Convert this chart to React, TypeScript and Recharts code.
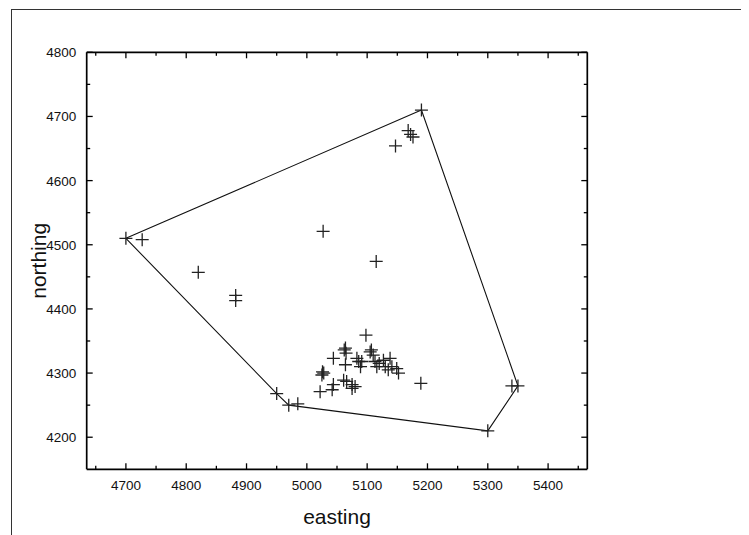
import React from 'react';
import { ScatterChart, Scatter, XAxis, YAxis } from 'recharts';

// station coordinates
const eastings = [
  4700, 4727, 4820, 4882, 4882, 5027, 5115, 5147, 5168, 5172, 5176, 5190,
  5189, 5340, 5350, 5300, 4970, 4985, 4950,
  5098, 5064, 5065, 5044, 5105, 5110, 5086, 5089, 5064, 5113, 5116, 5127,
  5138, 5130, 5141, 5149, 5152, 5135, 5026, 5025, 5022, 5042, 5044, 5061,
  5066, 5075, 5080, 5075, 5083, 5091, 5120, 5062, 5028, 5107,
];
const northings = [
  4510, 4508, 4457, 4421, 4413, 4521, 4474, 4654, 4678, 4672, 4668, 4710,
  4284, 4280, 4280, 4210, 4250, 4252, 4268,
  4359, 4339, 4331, 4323, 4333, 4328, 4318, 4310, 4313, 4318, 4310, 4320,
  4323, 4310, 4310, 4307, 4300, 4305, 4302, 4297, 4271, 4274, 4282, 4289,
  4287, 4282, 4279, 4276, 4323, 4318, 4315, 4336, 4300, 4336,
];

// convex hull, closed
const hullEastings = [4700, 5190, 5350, 5300, 4970, 4950, 4700];
const hullNorthings = [4510, 4710, 4280, 4210, 4250, 4268, 4510];

const xTicks = [4650, 4700, 4750, 4800, 4850, 4900, 4950, 5000, 5050, 5100, 5150, 5200, 5250, 5300, 5350, 5400, 5450];
const yTicks = [4200, 4250, 4300, 4350, 4400, 4450, 4500, 4550, 4600, 4650, 4700, 4750, 4800];

const points = eastings.map((e, i) => ({ e, n: northings[i] }));
const hull = hullEastings.map((e, i) => ({ e, n: hullNorthings[i] }));

const FONT = '"Liberation Sans", Arial, sans-serif';
const X_DOMAIN = [4635, 5465];
const Y_DOMAIN = [4150, 4800];

const isMajor = (v: number) => v % 100 === 0;

const BottomTick = (props: any) => {
  const { x, y, payload } = props;
  const len = isMajor(payload.value) ? 6 : 3.5;
  return (
    <g>
      <line x1={x} x2={x} y1={y} y2={y - len} stroke="#000" strokeWidth={1.3} />
      {isMajor(payload.value) && (
        <text x={x} y={y + 21} textAnchor="middle" fontSize={13.5} fontFamily={FONT} fill="#111">
          {payload.value}
        </text>
      )}
    </g>
  );
};

const TopTick = (props: any) => {
  const { x, y, payload } = props;
  const len = isMajor(payload.value) ? 6 : 3.5;
  return <line x1={x} x2={x} y1={y} y2={y + len} stroke="#000" strokeWidth={1.3} />;
};

const LeftTick = (props: any) => {
  const { x, y, payload } = props;
  const len = isMajor(payload.value) ? 6 : 3.5;
  return (
    <g>
      <line x1={x} x2={x + len} y1={y} y2={y} stroke="#000" strokeWidth={1.3} />
      {isMajor(payload.value) && (
        <text x={x - 10.5} y={y + 5} textAnchor="end" fontSize={13.5} fontFamily={FONT} fill="#111">
          {payload.value}
        </text>
      )}
    </g>
  );
};

const RightTick = (props: any) => {
  const { x, y, payload } = props;
  const len = isMajor(payload.value) ? 6 : 3.5;
  return <line x1={x} x2={x - len} y1={y} y2={y} stroke="#000" strokeWidth={1.3} />;
};

const Cross = (props: any) => {
  const { cx, cy } = props;
  if (cx == null || cy == null) return <g />;
  return (
    <g stroke="#222" strokeWidth={1.3}>
      <line x1={cx - 6.5} x2={cx + 6.5} y1={cy} y2={cy} />
      <line x1={cx} x2={cx} y1={cy - 6.5} y2={cy + 6.5} />
    </g>
  );
};

const Nothing = () => <g />;

const axisLine = { stroke: '#000', strokeWidth: 1.7 };

export default function App() {
  return (
    <div style={{ position: 'relative', width: 741, height: 527 }}>
      <div
        style={{
          position: 'absolute', left: 3, top: 1, width: 738, height: 526,
          borderLeft: '1px solid #333', borderTop: '1px solid #333', boxSizing: 'border-box',
        }}
      />
      <ScatterChart width={741} height={527} margin={{ top: 34.3, right: 151.7, bottom: 35.7, left: 28.7 }}>
        <XAxis
          xAxisId="b" dataKey="e" type="number" orientation="bottom" domain={X_DOMAIN}
          allowDataOverflow ticks={xTicks} interval={0} tick={<BottomTick />} tickLine={false}
          tickSize={0} tickMargin={0} height={30} axisLine={axisLine}
          label={{
            content: ({ viewBox }: any) => (
              <text x={viewBox.x + viewBox.width / 2} y={viewBox.y + viewBox.height + 25}
                textAnchor="middle" fontSize={21} fontFamily={FONT} fill="#111">easting</text>
            ),
          }}
        />
        <XAxis
          xAxisId="t" dataKey="e" type="number" orientation="top" domain={X_DOMAIN} allowDataOverflow
          ticks={xTicks} interval={0} tick={<TopTick />} tickLine={false} tickSize={0} tickMargin={0}
          height={10} axisLine={axisLine}
        />
        <YAxis
          yAxisId="l" dataKey="n" type="number" orientation="left" domain={Y_DOMAIN}
          allowDataOverflow ticks={yTicks} interval={0} tick={<LeftTick />} tickLine={false}
          tickSize={0} tickMargin={0} width={50} axisLine={axisLine}
          label={{
            content: ({ viewBox }: any) => {
              const cx = viewBox.x + 9.3;
              const cy = viewBox.y + viewBox.height / 2;
              return (
                <text x={cx} y={cy} transform={`rotate(-90, ${cx}, ${cy})`} textAnchor="middle"
                  fontSize={21} fontFamily={FONT} fill="#111">northing</text>
              );
            },
          }}
        />
        <YAxis
          yAxisId="r" dataKey="n" type="number" orientation="right" domain={Y_DOMAIN} allowDataOverflow
          ticks={yTicks} interval={0} tick={<RightTick />} tickLine={false} tickSize={0} tickMargin={0}
          width={10} axisLine={axisLine}
        />
        {/* invisible series so the top and right frame axes get drawn */}
        <Scatter xAxisId="t" yAxisId="r" data={hull} shape={<Nothing />} isAnimationActive={false} />
        <Scatter
          xAxisId="b" yAxisId="l" data={hull} line={{ stroke: '#111', strokeWidth: 1.1 }}
          shape={<Nothing />} isAnimationActive={false}
        />
        <Scatter xAxisId="b" yAxisId="l" data={points} shape={<Cross />} isAnimationActive={false} />
      </ScatterChart>
    </div>
  );
}
